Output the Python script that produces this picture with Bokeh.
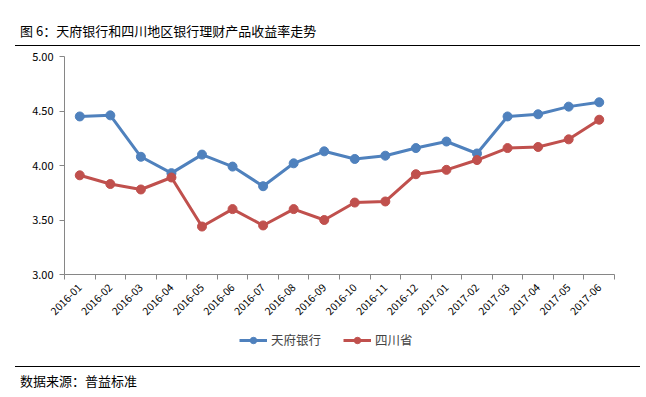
from bokeh.plotting import figure
from bokeh.models import (Range1d, FixedTicker, NumeralTickFormatter, Legend, LegendItem, Div)
from bokeh.layouts import column
from bokeh.embed import file_html
from bokeh.resources import INLINE
import math

months = ["2016-01", "2016-02", "2016-03", "2016-04", "2016-05", "2016-06", "2016-07", "2016-08",
          "2016-09", "2016-10", "2016-11", "2016-12", "2017-01", "2017-02", "2017-03", "2017-04",
          "2017-05", "2017-06"]
tianfu = [4.45, 4.46, 4.08, 3.93, 4.10, 3.99, 3.81, 4.02, 4.13, 4.06, 4.09, 4.16, 4.22, 4.11, 4.45, 4.47, 4.54, 4.58]
sichuan = [3.91, 3.83, 3.78, 3.89, 3.44, 3.60, 3.45, 3.60, 3.50, 3.66, 3.67, 3.92, 3.96, 4.05, 4.16, 4.17, 4.24, 4.42]
y_ticks = [3.0, 3.5, 4.0, 4.5, 5.0]
series_names = ["天府银行", "四川省"]

FONT = "Noto Sans CJK SC"
BLUE = "#4F81BD"
RED = "#C0504D"

xs = [i + 0.5 for i in range(len(months))]

title = Div(text="图 6：天府银行和四川地区银行理财产品收益率走势", width=625, height=38,
            margin=(8, 0, 0, 15),
            styles={"font-family": FONT, "font-size": "13px", "color": "#000",
                    "border-bottom": "1px solid #000", "box-sizing": "border-box",
                    "display": "flex", "align-items": "flex-end", "padding-left": "5px",
                    "padding-bottom": "4px"})

p = figure(width=630, height=285, output_backend="svg", toolbar_location=None,
           x_range=Range1d(0, len(months)), y_range=Range1d(3, 5),
           min_border_left=56, min_border_right=24, min_border_top=10, min_border_bottom=57,
           margin=(0, 0, 0, 8))
p.outline_line_color = None
p.grid.grid_line_color = None

p.line(xs, tianfu, line_color=BLUE, line_width=3)
p.scatter(xs, tianfu, size=9, fill_color=BLUE, line_color=BLUE)
p.line(xs, sichuan, line_color=RED, line_width=3)
p.scatter(xs, sichuan, size=9, fill_color=RED, line_color=RED)

xa = p.xaxis[0]
xa.ticker = FixedTicker(ticks=xs, minor_ticks=list(range(len(months) + 1)))
xa.major_label_overrides = {x: m for x, m in zip(xs, months)}
xa.major_label_orientation = math.pi / 4
xa.major_tick_out = 0
xa.major_tick_in = 0
xa.minor_tick_out = 5
xa.minor_tick_in = 0
xa.minor_tick_line_color = "#868686"
xa.axis_line_color = "#868686"
xa.major_label_text_font = FONT
xa.major_label_text_font_size = "10.5px"
xa.major_label_text_color = "#000"
xa.major_label_standoff = 6

ya = p.yaxis[0]
ya.ticker = FixedTicker(ticks=y_ticks)
ya.formatter = NumeralTickFormatter(format="0.00")
ya.major_tick_out = 5
ya.major_tick_in = 0
ya.minor_tick_line_color = None
ya.axis_line_color = "#868686"
ya.major_tick_line_color = "#868686"
ya.major_label_text_font = FONT
ya.major_label_text_font_size = "11px"
ya.major_label_text_color = "#000"
ya.major_label_standoff = 6

# legend in its own strip (series drawn outside this strip's visible range)
lp = figure(width=630, height=20, output_backend="svg", toolbar_location=None,
            x_range=Range1d(0, len(months)), y_range=Range1d(0, 1), min_border=0,
            margin=(0, 0, 0, 8))
lp.axis.visible = False
lp.grid.grid_line_color = None
lp.outline_line_color = None
lb1 = lp.line(xs, tianfu, line_color=BLUE, line_width=3)
lc1 = lp.scatter(xs, tianfu, size=9, fill_color=BLUE, line_color=BLUE)
lb2 = lp.line(xs, sichuan, line_color=RED, line_width=3)
lc2 = lp.scatter(xs, sichuan, size=9, fill_color=RED, line_color=RED)
legend = Legend(items=[LegendItem(label=series_names[0], renderers=[lb1, lc1]),
                       LegendItem(label=series_names[1], renderers=[lb2, lc2])],
                orientation="horizontal", location=(175, 2),
                label_text_font=FONT, label_text_font_size="12.5px",
                glyph_width=28, glyph_height=16, label_standoff=4, spacing=22,
                padding=0, margin=0, label_height=16,
                border_line_color=None, background_fill_alpha=0)
lp.add_layout(legend, "center")

source = Div(text="数据来源：普益标准", width=625, height=28, margin=(15, 0, 0, 15),
             styles={"font-family": FONT, "font-size": "13px", "color": "#000",
                     "border-top": "1px solid #000", "box-sizing": "border-box",
                     "padding-left": "5px", "padding-top": "5px"})

layout = column(title, p, lp, source, spacing=0)
open("out.html", "w").write(file_html(layout, INLINE))
